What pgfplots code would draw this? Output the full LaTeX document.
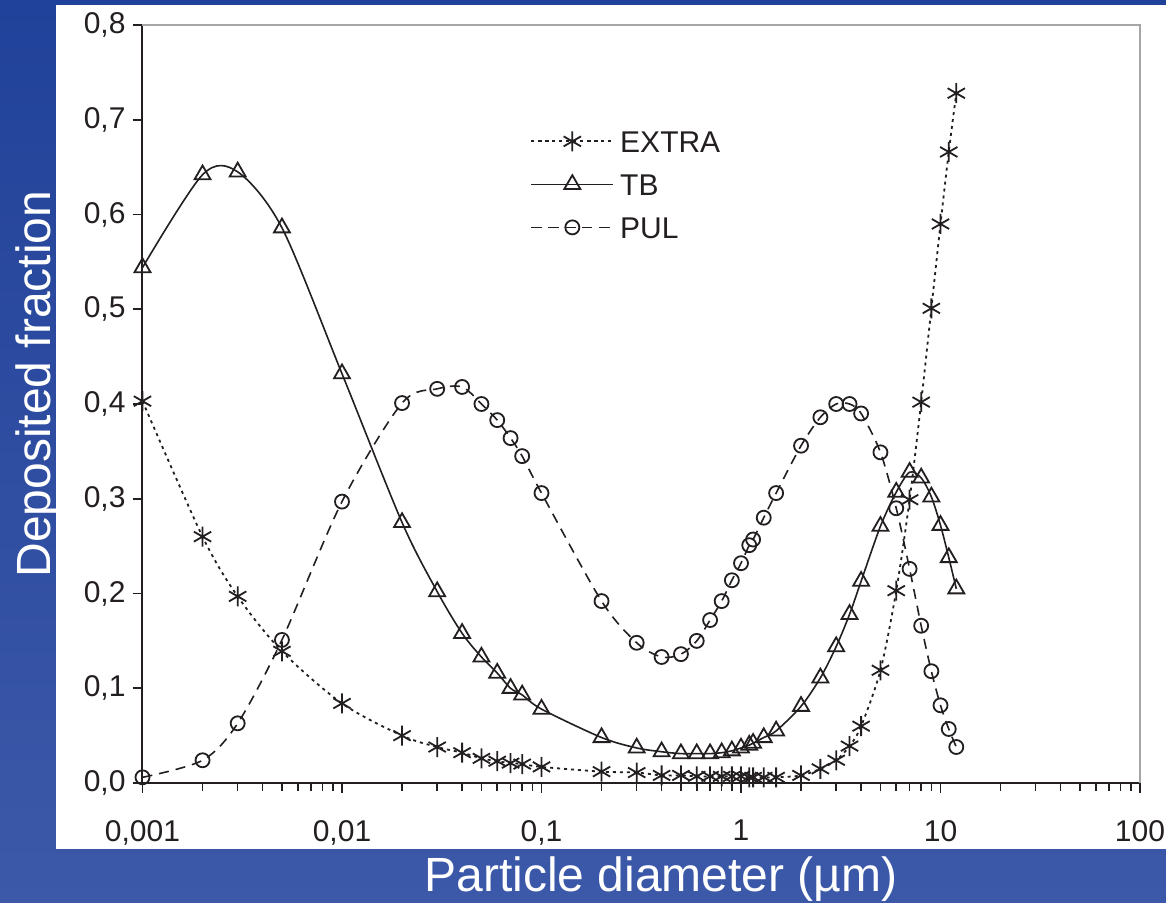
\documentclass[border=0pt]{standalone}
\usepackage{pgfplots}
\usepackage{pgfplotstable}
\pgfplotsset{compat=1.18}
\usepackage{fontspec}
\setmainfont{Liberation Sans}
\definecolor{bgtop}{RGB}{33,66,154}
\definecolor{bgmid}{RGB}{72,102,178}
\definecolor{bgbot}{RGB}{60,88,168}
\definecolor{ink}{RGB}{35,31,32}

\pgfplotstableread{
d f
0.001 0.403
0.002 0.260
0.003 0.197
0.005 0.139
0.01 0.084
0.02 0.050
0.03 0.038
0.04 0.032
0.05 0.026
0.06 0.023
0.07 0.021
0.08 0.020
0.1 0.017
0.2 0.012
0.3 0.011
0.4 0.008
0.5 0.008
0.6 0.007
0.7 0.007
0.8 0.007
0.9 0.007
1.0 0.007
1.1 0.006
1.15 0.006
1.3 0.006
1.5 0.006
2.0 0.008
2.5 0.015
3.0 0.024
3.5 0.039
4.0 0.060
5.0 0.119
6.0 0.203
7.0 0.299
8.0 0.402
9.0 0.501
10 0.590
11 0.666
12 0.728
}\extra

\pgfplotstableread{
d f
0.001 0.544
0.002 0.642
0.003 0.645
0.005 0.586
0.01 0.432
0.02 0.275
0.03 0.202
0.04 0.158
0.05 0.133
0.06 0.116
0.07 0.100
0.08 0.093
0.1 0.078
0.2 0.048
0.3 0.037
0.4 0.033
0.5 0.031
0.6 0.031
0.7 0.031
0.8 0.032
0.9 0.034
1.0 0.037
1.1 0.040
1.15 0.042
1.3 0.048
1.5 0.055
2.0 0.081
2.5 0.111
3.0 0.144
3.5 0.178
4.0 0.213
5.0 0.271
6.0 0.307
7.0 0.328
8.0 0.322
9.0 0.302
10 0.272
11 0.238
12 0.205
}\tb

\pgfplotstableread{
d f
0.001 0.006
0.002 0.024
0.003 0.063
0.005 0.151
0.01 0.297
0.02 0.401
0.03 0.416
0.04 0.418
0.05 0.400
0.06 0.383
0.07 0.364
0.08 0.345
0.1 0.306
0.2 0.192
0.3 0.148
0.4 0.133
0.5 0.136
0.6 0.150
0.7 0.172
0.8 0.192
0.9 0.214
1.0 0.232
1.1 0.251
1.15 0.257
1.3 0.280
1.5 0.306
2.0 0.356
2.5 0.386
3.0 0.400
3.5 0.400
4.0 0.390
5.0 0.349
6.0 0.290
7.0 0.226
8.0 0.166
9.0 0.118
10 0.082
11 0.057
12 0.038
}\pul

\begin{document}
\begin{tikzpicture}[x=1pt,y=1pt]
\path[use as bounding box] (0,0) rectangle (583,451);
\shade[top color=bgtop, middle color=bgmid, bottom color=bgbot] (0,0) rectangle (583,451);
\fill[white] (28,26.5) rectangle (583,448.5);
\node[white, rotate=90, anchor=base, font=\fontsize{24}{28}\selectfont, inner sep=0pt] at (25,259) {Deposited fraction};
\node[white, anchor=base, font=\fontsize{24}{28}\selectfont, inner sep=0pt] at (330.5,5.5) {Particle diameter (µm)};
\begin{axis}[
  at={(71.25pt,59.5pt)}, anchor=south west,
  scale only axis, width=498.75pt, height=379pt,
  xmode=log, xmin=0.001, xmax=100, ymin=0, ymax=0.8,
  clip=false,
  axis x line*=bottom, axis y line*=left,
  axis line style={-, ink, line width=1pt},
  every tick/.style={ink, line width=0.8pt},
  tick align=outside,
  major tick length=5pt, minor tick length=4pt,
  ytick={0,0.1,0.2,0.3,0.4,0.5,0.6,0.7,0.8},
  xtick={0.001,0.01,0.1,1,10,100},
  xticklabels={{0,001},{0,01},{0,1},1,10,100},
  yticklabel style={/pgf/number format/.cd, fixed, fixed zerofill, precision=1, use comma, assume math mode=true},
  xticklabel style={yshift=-10pt},
  ticklabel style={font=\fontsize{15}{18}\selectfont, text=ink},
  legend style={at={(0.3885,0.8668)}, anchor=north west, draw=none, fill=none, inner sep=0pt,
    font=\fontsize{15}{18}\selectfont, text=ink, row sep=6.5pt, column sep=1pt,
    nodes={inner sep=2pt, text height=11pt, text depth=0pt}},
  legend cell align=left,
  legend image code/.code={\draw[mark repeat=2,mark phase=2,#1] plot coordinates {(0pt,0pt) (20.5pt,0pt) (41pt,0pt)};},
]
\addplot[ink, line width=0.9pt, dash pattern=on 1.5pt off 2pt, smooth, mark=asterisk, mark size=5pt, mark options={solid, line width=0.9pt}] table[x=d,y=f] {\extra};
\addlegendentry{EXTRA}
\addplot[ink, line width=0.8pt, smooth, mark=triangle, mark size=4.6pt, mark options={solid, line width=0.9pt}] table[x=d,y=f] {\tb};
\addlegendentry{TB}
\addplot[ink, line width=0.8pt, dash pattern=on 5pt off 3.5pt, smooth, mark=o, mark size=3.5pt, mark options={solid, line width=0.9pt}] table[x=d,y=f] {\pul};
\addlegendentry{PUL}
\draw[gray!70, line width=1pt] (rel axis cs:0,1) -- (rel axis cs:1,1) -- (rel axis cs:1,0);
\end{axis}
\end{tikzpicture}
\end{document}
